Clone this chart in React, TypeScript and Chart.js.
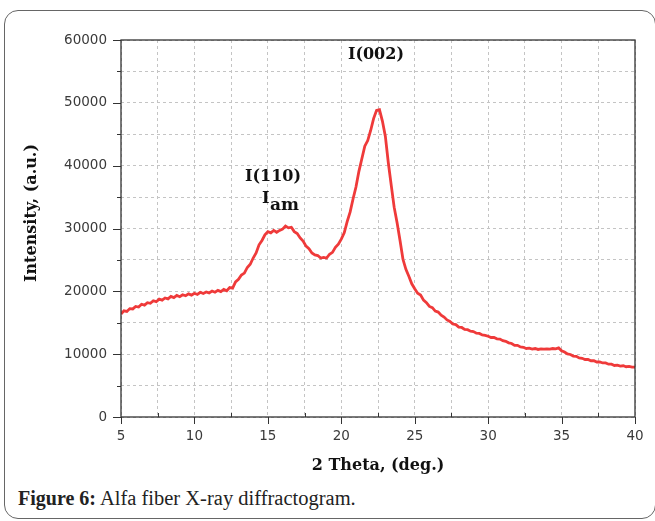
import React, { useEffect, useRef } from "react";
import { Chart, registerables } from "chart.js";

Chart.register(...registerables);

// 2θ sampling (degrees)
const theta = [
  5.0, 5.2, 5.4, 5.6, 5.8, 6.0, 6.2, 6.4, 6.6, 6.8,
  7.0, 7.2, 7.4, 7.6, 7.8, 8.0, 8.2, 8.4, 8.6, 8.8,
  9.0, 9.2, 9.4, 9.6, 9.8, 10.0, 10.2, 10.4, 10.6, 10.8,
  11.0, 11.2, 11.4, 11.6, 11.8, 12.0, 12.2, 12.4, 12.6, 12.8,
  13.0, 13.2, 13.4, 13.6, 13.8, 14.0, 14.2, 14.4, 14.6, 14.8,
  15.0, 15.2, 15.4, 15.6, 15.8, 16.0, 16.2, 16.4, 16.6, 16.8,
  17.0, 17.2, 17.4, 17.6, 17.8, 18.0, 18.2, 18.4, 18.6, 18.8,
  19.0, 19.2, 19.4, 19.6, 19.8, 20.0, 20.2, 20.4, 20.6, 20.8,
  21.0, 21.2, 21.4, 21.6, 21.8, 22.0, 22.2, 22.4, 22.6, 22.8,
  23.0, 23.2, 23.4, 23.6, 23.8, 24.0, 24.2, 24.4, 24.6, 24.8,
  25.0, 25.2, 25.4, 25.6, 25.8, 26.0, 26.2, 26.4, 26.6, 26.8,
  27.0, 27.2, 27.4, 27.6, 27.8, 28.0, 28.2, 28.4, 28.6, 28.8,
  29.0, 29.2, 29.4, 29.6, 29.8, 30.0, 30.2, 30.4, 30.6, 30.8,
  31.0, 31.2, 31.4, 31.6, 31.8, 32.0, 32.2, 32.4, 32.6, 32.8,
  33.0, 33.2, 33.4, 33.6, 33.8, 34.0, 34.2, 34.4, 34.6, 34.8,
  35.0, 35.2, 35.4, 35.6, 35.8, 36.0, 36.2, 36.4, 36.6, 36.8,
  37.0, 37.2, 37.4, 37.6, 37.8, 38.0, 38.2, 38.4, 38.6, 38.8,
  39.0, 39.2, 39.4, 39.6, 39.8, 40.0,
];

// Intensity (a.u.)
const intensity = [
  16400, 16900, 16800, 17250, 17200, 17600, 17500, 17950, 17800, 18200,
  18100, 18500, 18350, 18750, 18600, 18950, 18800, 19200, 19000, 19350,
  19150, 19450, 19300, 19600, 19400, 19700, 19500, 19850, 19650, 19900,
  19750, 20050, 19850, 20150, 19950, 20300, 20100, 20600, 20500, 21500,
  21900, 22600, 22900, 23800, 24300, 25300, 26100, 27400, 28100, 29000,
  29500, 29300, 29700, 29400, 29700, 29900, 30400, 30100, 30200, 29500,
  29200, 28500, 28000, 27200, 26800, 26100, 25800, 25700, 25300, 25400,
  25300, 25900, 26200, 27000, 27500, 28300, 29300, 31100, 32600, 34700,
  36600, 39100, 41100, 43100, 44000, 45600, 47500, 48800, 48900, 47100,
  44700, 40500, 36900, 33400, 30900, 28100, 25100, 23500, 22400, 21200,
  20400, 19700, 19400, 18600, 18200, 17600, 17400, 16850, 16700, 16200,
  15900, 15450, 15200, 14800, 14700, 14300, 14250, 13950, 13900, 13650,
  13600, 13350, 13300, 13050, 13000, 12850, 12650, 12650, 12450, 12400,
  12150, 12050, 11800, 11700, 11400, 11400, 11150, 11100, 10900, 10950,
  10800, 10900, 10750, 10850, 10800, 10850, 10800, 10900, 10850, 11000,
  10550, 10350, 10050, 9950, 9700, 9650, 9400, 9350, 9150, 9150,
  8950, 8950, 8750, 8750, 8600, 8600, 8400, 8400, 8200, 8250,
  8100, 8150, 8000, 8050, 7950, 7950,
];

const xTicksMajor = [5, 10, 15, 20, 25, 30, 35, 40];
const xTicksMinor = [7.5, 12.5, 17.5, 22.5, 27.5, 32.5, 37.5];
const yTicksMajor = [0, 10000, 20000, 30000, 40000, 50000, 60000];
const yTicksMinor = [5000, 15000, 25000, 35000, 45000, 55000];

// Peak annotations: [text, 2θ, intensity]
const peakLabels: [string, number, number][] = [
  ["I(002)", 22.36, 57700],
  ["I(110)", 15.35, 38200],
];
const amLabel = { main: "I", sub: "am", x: 14.6, y: 34100 };

const xTitle = "2 Theta, (deg.)";
const yTitle = "Intensity, (a.u.)";

const TITLE_FONT = "bold 16px 'DejaVu Serif'";
const TICK_FONT_FAMILY = "'DejaVu Sans'";

const overlayPlugin = {
  id: "overlay",
  afterDraw(chart: any) {
    const ctx = chart.ctx;
    const { left, right, top, bottom } = chart.chartArea;
    const xs = chart.scales.x;
    const ys = chart.scales.y;
    ctx.save();
    // frame
    ctx.strokeStyle = "#333";
    ctx.lineWidth = 1.3;
    ctx.setLineDash([]);
    ctx.strokeRect(left, top, right - left, bottom - top);
    // ticks
    ctx.lineWidth = 1;
    ctx.beginPath();
    xTicksMajor.forEach((v) => {
      const px = Math.round(xs.getPixelForValue(v)) + 0.5;
      ctx.moveTo(px, bottom);
      ctx.lineTo(px, bottom + 7);
    });
    xTicksMinor.forEach((v) => {
      const px = Math.round(xs.getPixelForValue(v)) + 0.5;
      ctx.moveTo(px, bottom);
      ctx.lineTo(px, bottom - 4);
    });
    yTicksMajor.forEach((v) => {
      const py = Math.round(ys.getPixelForValue(v)) + 0.5;
      ctx.moveTo(left, py);
      ctx.lineTo(left - 8, py);
    });
    yTicksMinor.forEach((v) => {
      const py = Math.round(ys.getPixelForValue(v)) + 0.5;
      ctx.moveTo(left, py);
      ctx.lineTo(left - 4, py);
    });
    ctx.stroke();

    // peak labels
    ctx.fillStyle = "#111";
    ctx.font = TITLE_FONT;
    ctx.textAlign = "center";
    ctx.textBaseline = "middle";
    peakLabels.forEach(([t, x, y]) => {
      ctx.fillText(t, xs.getPixelForValue(x), ys.getPixelForValue(y));
    });
    // I_am
    ctx.textAlign = "left";
    ctx.textBaseline = "alphabetic";
    const ax = xs.getPixelForValue(amLabel.x);
    const ay = ys.getPixelForValue(amLabel.y);
    ctx.font = "bold 16px 'DejaVu Serif'";
    ctx.fillText(amLabel.main, ax, ay);
    const w = ctx.measureText(amLabel.main).width;
    ctx.font = "bold 17px 'DejaVu Serif'";
    ctx.fillText(amLabel.sub, ax + w + 0.5, ay + 7);

    // axis titles
    ctx.font = TITLE_FONT;
    ctx.textAlign = "center";
    ctx.textBaseline = "middle";
    ctx.fillText(xTitle, (left + right) / 2, bottom + 49);
    ctx.translate(left - 89, 213);
    ctx.rotate(-Math.PI / 2);
    ctx.fillText(yTitle, 0, 0);
    ctx.restore();
  },
};

export default function App() {
  const canvasRef = useRef<HTMLCanvasElement | null>(null);

  useEffect(() => {
    if (!canvasRef.current) return;
    const chart = new Chart(canvasRef.current, {
      type: "line",
      data: {
        datasets: [
          {
            data: theta.map((x, i) => ({ x, y: intensity[i] })),
            borderColor: "#ef3a3a",
            borderWidth: 2.8,
            pointRadius: 0,
            tension: 0,
            fill: false,
          },
        ],
      },
      options: {
        animation: false,
        responsive: false,
        maintainAspectRatio: false,
        layout: { padding: { left: 0, top: 40, right: 20, bottom: 0 } },
        plugins: { legend: { display: false }, tooltip: { enabled: false } },
        scales: {
          x: {
            type: "linear",
            min: 5,
            max: 40,
            afterFit: (s: any) => {
              s.height = 63;
            },
            ticks: {
              stepSize: 2.5,
              autoSkip: false,
              maxRotation: 0,
              padding: 11,
              color: "#3a3a3a",
              font: { family: TICK_FONT_FAMILY, size: 13.5 },
              callback: (v: any) => (Number(v) % 5 === 0 ? String(v) : ""),
            },
            grid: { color: "#c4c4c4", lineWidth: 1, drawTicks: false },
            border: { display: false, dash: [3, 3] },
          },
          y: {
            type: "linear",
            min: 0,
            max: 60000,
            afterFit: (s: any) => {
              s.width = 121;
            },
            ticks: {
              stepSize: 5000,
              autoSkip: false,
              padding: 14,
              color: "#3a3a3a",
              font: { family: TICK_FONT_FAMILY, size: 13.5 },
              callback: (v: any) => (Number(v) % 10000 === 0 ? String(v) : ""),
            },
            grid: { color: "#c4c4c4", lineWidth: 1, drawTicks: false },
            border: { display: false, dash: [3, 3] },
          },
        },
      },
      plugins: [overlayPlugin],
    });
    return () => chart.destroy();
  }, []);

  return (
    <div
      style={{
        position: "absolute",
        left: 0,
        top: 0,
        width: 655,
        height: 521,
        background: "#fff",
        overflow: "hidden",
      }}
    >
      <div
        style={{
          position: "absolute",
          left: 4,
          top: 10,
          width: 652,
          height: 509,
          boxSizing: "border-box",
          border: "1.5px solid #666",
          borderRadius: 14,
        }}
      />
      <canvas
        ref={canvasRef}
        width={655}
        height={480}
        style={{ position: "absolute", left: 0, top: 0, width: 655, height: 480 }}
      />
      <div
        style={{
          position: "absolute",
          left: 18,
          top: 486,
          fontFamily: "'Liberation Serif', serif",
          fontSize: 20.5,
          lineHeight: "24px",
          color: "#222",
          whiteSpace: "nowrap",
        }}
      >
        <b style={{ fontSize: 20 }}>Figure 6:</b> Alfa fiber X-ray diffractogram.
      </div>
    </div>
  );
}
